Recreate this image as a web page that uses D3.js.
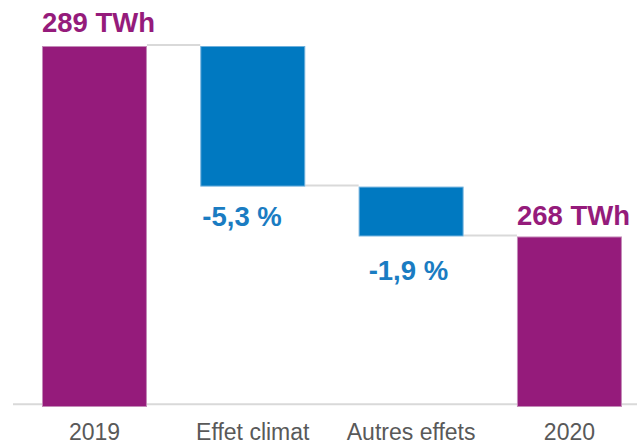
<!DOCTYPE html>
<html>
<head>
<meta charset="utf-8">
<script src="https://cdn.jsdelivr.net/npm/d3@7/dist/d3.min.js"></script>
<style>
  html, body { margin: 0; padding: 0; background: #fff; }
  svg { display: block; }
</style>
</head>
<body>
<svg id="chart" width="637" height="445"></svg>
<script>
// ---- data ----
const categories = ["2019", "Effet climat", "Autres effets", "2020"];
const kinds = ["total", "delta", "delta", "total"];
const values = [289, -15.5, -5.5, 268];          // TWh
const valueLabels = ["289 TWh", "-5,3 %", "-1,9 %", "268 TWh"];

// ---- styles ----
const purple = "#951b7b", purpleEdge = "#c48bb8";
const blue = "#0079c1", blueEdge = "#6fb0dc";
const blueText = "#1a7cc2";
const labelDx = [0, 2, 10, 0];
const labelDy = [-14, 39, 44, -11.5];

const W = 637, H = 445;
const svg = d3.select("#chart");

const x = d3.scaleBand().domain(categories)
  .range([15.7, 648.2]).paddingInner(0.337).paddingOuter(0.166);
const y = d3.scaleLinear().domain([249.2, 289]).range([407, 46]);

// compute waterfall segments
let running = 0;
const segs = categories.map((c, i) => {
  let y0, y1;
  if (kinds[i] === "total") { y0 = y.domain()[0]; y1 = values[i]; running = values[i]; }
  else { y0 = running + values[i]; y1 = running; running = running + values[i]; }
  return { cat: c, kind: kinds[i], lo: Math.min(y0, y1), hi: Math.max(y0, y1), end: running, label: valueLabels[i], i };
});

// axis baseline
svg.append("line")
  .attr("x1", 13).attr("x2", W)
  .attr("y1", y(249.5)).attr("y2", y(249.5))
  .attr("stroke", "#d9d9d9").attr("stroke-width", 2);

// connectors
for (let i = 0; i < segs.length - 1; i++) {
  const level = segs[i].end;
  svg.append("line")
    .attr("x1", x(segs[i].cat) + x.bandwidth())
    .attr("x2", x(segs[i + 1].cat))
    .attr("y1", y(level) - 1).attr("y2", y(level) - 1)
    .attr("stroke", "#d9d9d9").attr("stroke-width", 2);
}

// bars
svg.selectAll("rect.bar").data(segs).join("rect")
  .attr("class", "bar")
  .attr("x", d => x(d.cat) + 0.5)
  .attr("width", x.bandwidth() - 1)
  .attr("y", d => y(d.hi) + 0.5)
  .attr("height", d => y(d.lo) - y(d.hi) - 1)
  .attr("fill", d => d.kind === "total" ? purple : blue)
  .attr("stroke", d => d.kind === "total" ? purpleEdge : blueEdge)
  .attr("stroke-width", 1);

// value labels
svg.selectAll("text.val").data(segs).join("text")
  .attr("class", "val")
  .attr("x", d => x(d.cat) + labelDx[d.i])
  .attr("y", d => (d.kind === "total" ? y(d.hi) : y(d.lo)) + labelDy[d.i])
  .attr("font-family", "'Liberation Sans', Arial, sans-serif")
  .attr("font-weight", "bold")
  .attr("font-size", 27.5)
  .attr("fill", d => d.kind === "total" ? purple : blueText)
  .text(d => d.label);

// category axis
const axis = d3.axisBottom(x).tickSize(0).tickPadding(0);
const g = svg.append("g").attr("transform", `translate(0, 424)`).call(axis);
g.select(".domain").remove();
g.selectAll("text")
  .attr("dy", "0.71em")
  .attr("font-family", "'Liberation Sans', Arial, sans-serif")
  .attr("font-size", 23)
  .attr("fill", "#595959");
</script>
</body>
</html>
